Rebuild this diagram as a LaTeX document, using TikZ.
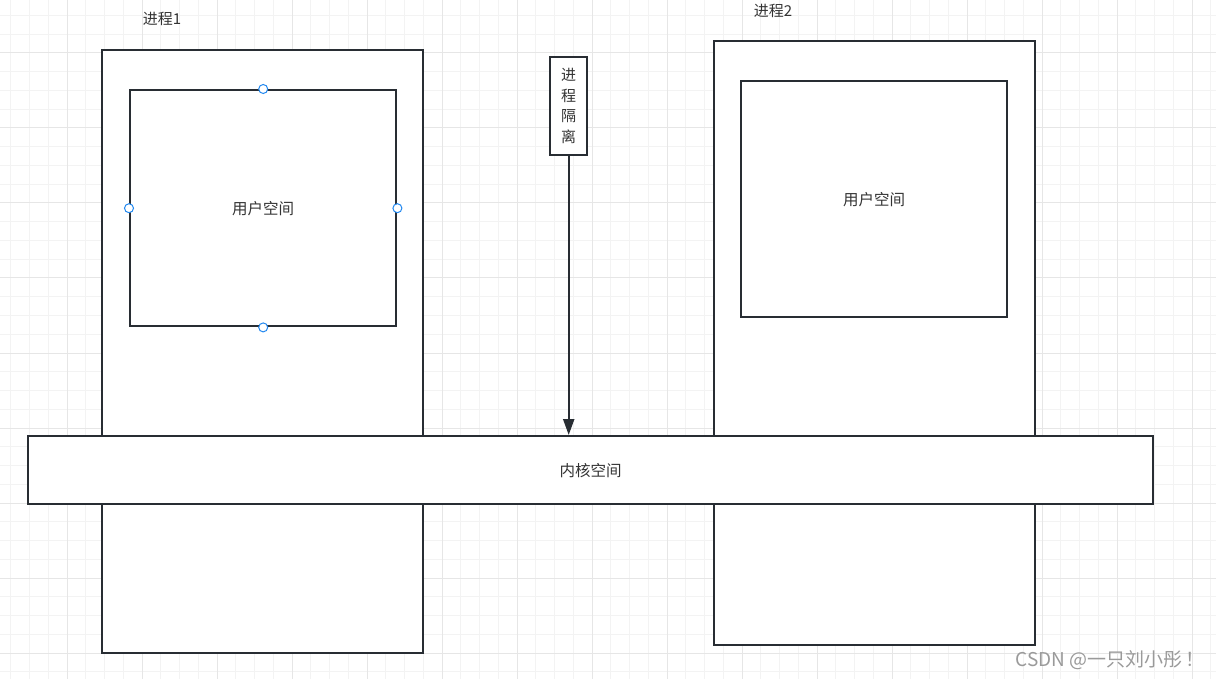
\documentclass[tikz,border=0pt]{standalone}
\usepackage{fontspec}
\newfontfamily\cjk{Noto Sans CJK SC}
\usetikzlibrary{arrows.meta}
\definecolor{boxLine}{HTML}{282D33}
\definecolor{boxText}{HTML}{333333}
\definecolor{handleBlue}{HTML}{2288F0}
\definecolor{gridMinorC}{HTML}{F3F3F3}
\definecolor{gridMajorC}{HTML}{E6E6E6}
\definecolor{markGray}{HTML}{9A9A9A}
\begin{document}
\begin{tikzpicture}[x=1pt,y=-1pt,
    gridMinor/.style={gridMinorC,line width=1pt},
    gridMajor/.style={gridMajorC,line width=1pt},
    procBox/.style={draw=boxLine,line width=2.4pt,fill=white,anchor=north west,inner sep=0pt,
        font=\cjk\fontsize{15.5}{18}\selectfont,text=boxText},
    procLabel/.style={font=\cjk\fontsize{15}{18}\selectfont,text=boxText},
    handle/.style={circle,draw=handleBlue,fill=white,line width=1pt,inner sep=0pt,minimum size=9pt},
    isoArrow/.style={draw=boxLine,line width=2.2pt,-{Triangle[length=16pt,width=11pt]}},
]
\useasboundingbox (0,0) rectangle (1216,679);
\fill[white] (0,0) rectangle (1216,679);
% Grid
\foreach \i in {0,...,64}
    \draw[gridMinor] ({10.75+18.75*\i},0) -- ({10.75+18.75*\i},679);
\foreach \j in {0,...,35}
    \draw[gridMinor] (0,{15.5+18.75*\j}) -- (1216,{15.5+18.75*\j});
\foreach \x in {67,142,...,1192}
    \draw[gridMajor] (\x,0) -- (\x,679);
\foreach \y in {53,128,...,653}
    \draw[gridMajor] (0,\y) -- (1216,\y);
% Process 1
\node[procBox,minimum width=321pt,minimum height=603pt] (proc1) at (101,49) {};
\node[procBox,minimum width=266pt,minimum height=236pt] (user1) at (129,89) {用户空间};
\node[procLabel] (proc1Lbl) at (162,19) {进程1};
% Process 2
\node[procBox,minimum width=321pt,minimum height=604pt] (proc2) at (713,40) {};
\node[procBox,minimum width=266pt,minimum height=236pt] (user2) at (740,80) {用户空间};
\node[procLabel] (proc2Lbl) at (773,11) {进程2};
% Kernel
\node[procBox,minimum width=1125pt,minimum height=68pt] (kern) at (27,435) {内核空间};
% Isolation
\node[procBox,minimum width=37pt,minimum height=98pt,align=center,
    font=\cjk\fontsize{15}{20.5}\selectfont] (iso) at (549,56) {进\\程\\隔\\离};
\draw[isoArrow] (iso.south) -- (iso.south |- kern.north);
% Selection handles
\foreach \a in {north,south,east,west}
    \node[handle] (h\a) at (user1.\a) {};
% Watermark
\node[font=\cjk\fontsize{19}{22}\selectfont,text=markGray] (mark) at (1110,660) {CSDN @一只刘小彤\,！};
\end{tikzpicture}
\end{document}
